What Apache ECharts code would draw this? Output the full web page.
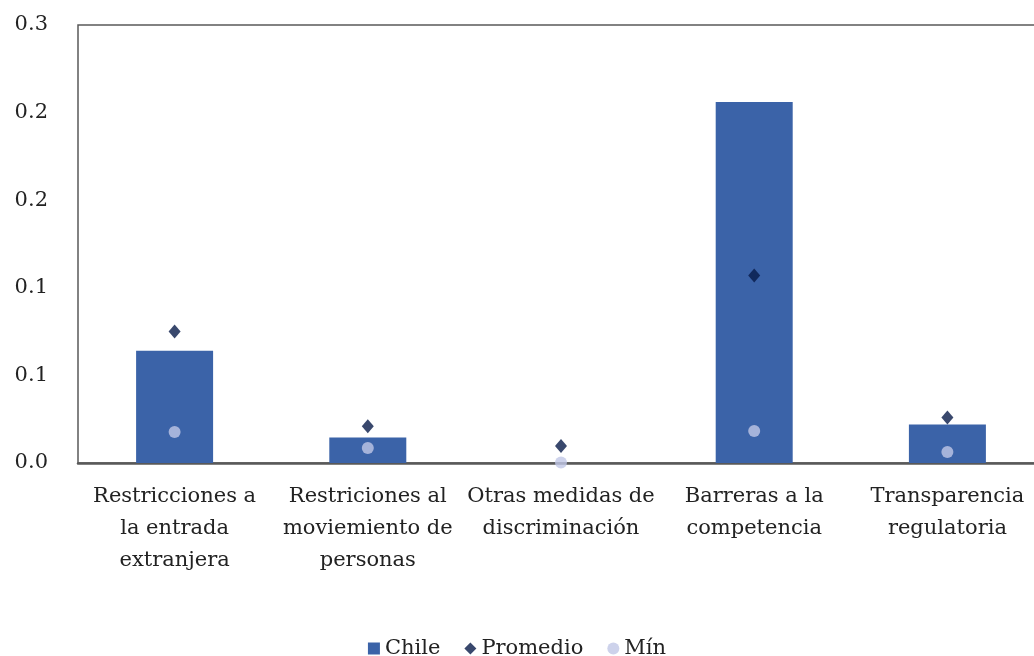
<!DOCTYPE html>
<html>
<head>
<meta charset="utf-8">
<script src="https://cdn.jsdelivr.net/npm/echarts@6/dist/echarts.min.js"></script>
<style>html,body{margin:0;padding:0;background:#fff;}#c{width:1034px;height:656px;}</style>
</head>
<body>
<div id="c"></div>
<script>
const categories = [
  'Restricciones a\nla entrada\nextranjera',
  'Restriciones al\nmoviemiento de\npersonas',
  'Otras medidas de\ndiscriminación',
  'Barreras a la\ncompetencia',
  'Transparencia\nregulatoria'
];
const chile = [0.064, 0.0145, 0, 0.206, 0.022];
const promedio = [0.075, 0.021, 0.0097, 0.107, 0.026];
const minimo = [0.0177, 0.0086, 0.0003, 0.0183, 0.0063];
const yTickLabels = ['0.0', '0.1', '0.1', '0.2', '0.2', '0.3'];

const font = 'DejaVu Serif';
const chart = echarts.init(document.getElementById('c'));
chart.setOption({
  animation: false,
  textStyle: { fontFamily: font },
  grid: { left: 78, top: 25, width: 966, height: 438, outerBoundsMode: 'none', show: true, borderColor: '#595959', borderWidth: 1.5, backgroundColor: 'transparent' },
  legend: {
    top: 633, left: 'center',
    itemWidth: 12, itemHeight: 12, itemGap: 24,
    textStyle: { fontFamily: font, fontSize: 21, color: '#222' },
    data: [
      { name: 'Chile', icon: 'rect' },
      { name: 'Promedio', icon: 'diamond', itemStyle: { color: '#081a48' } },
      { name: 'Mín', icon: 'circle' }
    ]
  },
  xAxis: {
    type: 'category', data: categories,
    axisLine: { lineStyle: { color: '#595959', width: 2.5 } },
    axisTick: { show: false },
    axisLabel: { fontFamily: font, fontSize: 21, color: '#222', lineHeight: 32, margin: 18, interval: 0 }
  },
  yAxis: {
    type: 'value', min: 0, max: 0.25, interval: 0.05,
    splitLine: { show: false },
    axisLine: { show: false }, axisTick: { show: false },
    axisLabel: {
      fontFamily: font, fontSize: 21, color: '#222', margin: 30,
      formatter: v => yTickLabels[Math.round(v / 0.05)]
    }
  },
  series: [
    { name: 'Chile', type: 'bar', data: chile, barWidth: 77, itemStyle: { color: '#3b63a8' }, z: 1 },
    { name: 'Promedio', type: 'scatter', data: promedio, symbol: 'diamond', symbolSize: [12, 14], itemStyle: { color: '#081a48' }, z: 3 },
    { name: 'Mín', type: 'scatter', data: minimo, symbol: 'circle', symbolSize: 12, itemStyle: { color: '#c0c7e6' }, z: 3 }
  ]
});
</script>
</body>
</html>
